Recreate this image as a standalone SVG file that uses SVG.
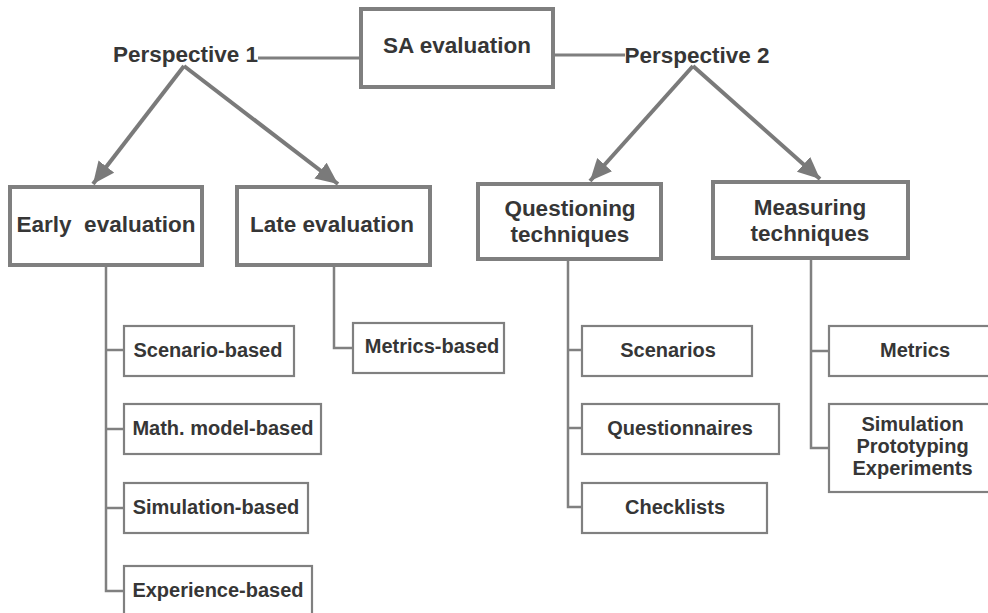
<svg xmlns="http://www.w3.org/2000/svg" width="988" height="613" viewBox="0 0 988 613">
  <style>
    .main { fill: #ffffff; stroke: #7f7f7f; stroke-width: 4; }
    .leaf { fill: #ffffff; stroke: #808080; stroke-width: 2.2; }
    .t { font-family: "Liberation Sans", Arial, sans-serif; font-weight: bold; fill: #363636; text-anchor: middle; }
    .big { font-size: 22.5px; }
    .small { font-size: 20px; }
    .link { fill: none; stroke: #7f7f7f; stroke-width: 3; }
    .arrow { fill: none; stroke: #7a7a7a; stroke-width: 4; }
    .tree { fill: none; stroke: #808080; stroke-width: 2.5; }
  </style>
  <defs>
    <marker id="head" markerUnits="userSpaceOnUse" markerWidth="24" markerHeight="22" refX="22" refY="10" orient="auto">
      <path d="M0,0 L22,10 L0,20 Z" fill="#7a7a7a"/>
    </marker>
  </defs>

  <rect width="988" height="613" fill="#ffffff"/>

  <!-- connectors -->
  <g id="connectors">
    <line class="link" x1="258" y1="58" x2="361" y2="58"/>
    <line class="link" x1="553" y1="55" x2="625" y2="55"/>
    <line class="arrow" x1="184" y1="66" x2="93" y2="184" marker-end="url(#head)"/>
    <line class="arrow" x1="184" y1="66" x2="338" y2="184" marker-end="url(#head)"/>
    <line class="arrow" x1="693" y1="66" x2="590" y2="181" marker-end="url(#head)"/>
    <line class="arrow" x1="693" y1="66" x2="820" y2="179" marker-end="url(#head)"/>
    <!-- early evaluation tree -->
    <polyline class="tree" points="106,266 106,591 124,591"/>
    <line class="tree" x1="106" y1="350" x2="124" y2="350"/>
    <line class="tree" x1="106" y1="429" x2="124" y2="429"/>
    <line class="tree" x1="106" y1="508" x2="124" y2="508"/>
    <!-- late evaluation tree -->
    <polyline class="tree" points="334,266 334,348 353,348"/>
    <!-- questioning tree -->
    <polyline class="tree" points="568,260 568,507 586,507"/>
    <line class="tree" x1="568" y1="350" x2="586" y2="350"/>
    <line class="tree" x1="568" y1="428" x2="586" y2="428"/>
    <!-- measuring tree -->
    <polyline class="tree" points="811,259 811,448 829,448"/>
    <line class="tree" x1="811" y1="351" x2="829" y2="351"/>
  </g>

  <g id="sa-evaluation">
    <rect class="main" x="361" y="9" width="192" height="78"/>
    <text class="t big" x="457" y="53">SA evaluation</text>
  </g>
  <g id="perspective-1">
    <text class="t big" x="185.5" y="62">Perspective 1</text>
  </g>
  <g id="perspective-2">
    <text class="t big" x="697" y="63">Perspective 2</text>
  </g>

  <g id="early-evaluation">
    <rect class="main" x="10" y="187" width="192" height="78"/>
    <text class="t big" x="106" y="232" xml:space="preserve">Early  evaluation</text>
  </g>
  <g id="late-evaluation">
    <rect class="main" x="237" y="187" width="193" height="78"/>
    <text class="t big" x="332" y="232">Late evaluation</text>
  </g>
  <g id="questioning">
    <rect class="main" x="478" y="184" width="183" height="75"/>
    <text class="t big" x="570" y="216">Questioning</text>
    <text class="t big" x="570" y="242">techniques</text>
  </g>
  <g id="measuring">
    <rect class="main" x="713" y="182" width="195" height="76"/>
    <text class="t big" x="810" y="215">Measuring</text>
    <text class="t big" x="810" y="241">techniques</text>
  </g>

  <g id="scenario-based">
    <rect class="leaf" x="124" y="326" width="170" height="50"/>
    <text class="t small" x="208" y="357">Scenario-based</text>
  </g>
  <g id="math-model-based">
    <rect class="leaf" x="124" y="404" width="197" height="50"/>
    <text class="t small" x="223" y="435">Math. model-based</text>
  </g>
  <g id="simulation-based">
    <rect class="leaf" x="124" y="483" width="184" height="50"/>
    <text class="t small" x="216" y="514">Simulation-based</text>
  </g>
  <g id="experience-based">
    <rect class="leaf" x="124" y="566" width="188" height="60"/>
    <text class="t small" x="218" y="597">Experience-based</text>
  </g>

  <g id="metrics-based">
    <rect class="leaf" x="353" y="323" width="151" height="50"/>
    <text class="t small" x="432" y="353">Metrics-based</text>
  </g>

  <g id="scenarios">
    <rect class="leaf" x="582" y="326" width="170" height="50"/>
    <text class="t small" x="668" y="357">Scenarios</text>
  </g>
  <g id="questionnaires">
    <rect class="leaf" x="582" y="404" width="197" height="50"/>
    <text class="t small" x="680" y="435">Questionnaires</text>
  </g>
  <g id="checklists">
    <rect class="leaf" x="582" y="483" width="185" height="50"/>
    <text class="t small" x="675" y="514">Checklists</text>
  </g>

  <g id="metrics">
    <rect class="leaf" x="829" y="326" width="170" height="50"/>
    <text class="t small" x="915" y="357">Metrics</text>
  </g>
  <g id="simulation-prototyping-experiments">
    <rect class="leaf" x="829" y="404" width="170" height="88"/>
    <text class="t small" x="912.5" y="431">Simulation</text>
    <text class="t small" x="912.5" y="453">Prototyping</text>
    <text class="t small" x="912.5" y="475">Experiments</text>
  </g>
</svg>
